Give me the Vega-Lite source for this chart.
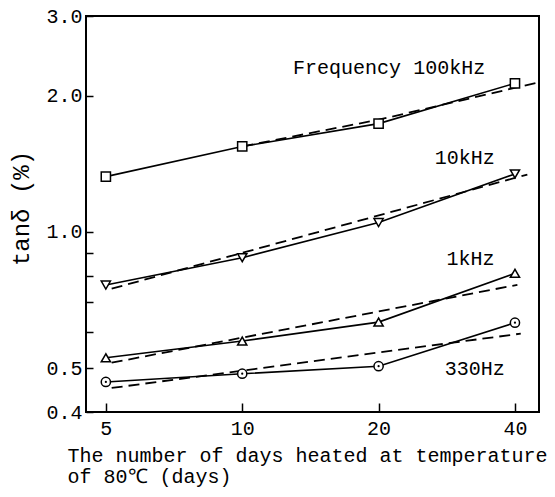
{
  "$schema": "https://vega.github.io/schema/vega-lite/v6.json",
  "autosize": {"type": "none"},
  "padding": {"left": 86, "top": 16, "right": 16, "bottom": 85},
  "width": 453,
  "height": 396,
  "background": "white",
  "config": {
    "view": {"stroke": "black", "strokeWidth": 2},
    "font": "Liberation Mono",
    "axis": {
      "labelFont": "Liberation Mono",
      "titleFont": "Liberation Mono",
      "labelFontSize": 20,
      "titleFontSize": 20,
      "labelColor": "black",
      "titleColor": "black",
      "titleFontWeight": "normal",
      "domain": false,
      "grid": false,
      "tickColor": "black",
      "tickWidth": 1.5
    }
  },
  "datasets": {
    "measured": [
      {"days": 5, "tand": 1.325, "series": "100kHz"},
      {"days": 10, "tand": 1.545, "series": "100kHz"},
      {"days": 20, "tand": 1.735, "series": "100kHz"},
      {"days": 40, "tand": 2.13, "series": "100kHz"},
      {"days": 5, "tand": 0.763, "series": "10kHz"},
      {"days": 10, "tand": 0.877, "series": "10kHz"},
      {"days": 20, "tand": 1.049, "series": "10kHz"},
      {"days": 40, "tand": 1.343, "series": "10kHz"},
      {"days": 5, "tand": 0.527, "series": "1kHz"},
      {"days": 10, "tand": 0.574, "series": "1kHz"},
      {"days": 20, "tand": 0.632, "series": "1kHz"},
      {"days": 40, "tand": 0.81, "series": "1kHz"},
      {"days": 5, "tand": 0.466, "series": "330Hz"},
      {"days": 10, "tand": 0.486, "series": "330Hz"},
      {"days": 20, "tand": 0.505, "series": "330Hz"},
      {"days": 40, "tand": 0.63, "series": "330Hz"}
    ],
    "fit": [
      {"days": 10, "tand": 1.545, "series": "100kHz"},
      {"days": 20, "tand": 1.77, "series": "100kHz"},
      {"days": 44.9, "tand": 2.138, "series": "100kHz"},
      {"days": 5.15, "tand": 0.749, "series": "10kHz"},
      {"days": 42.6, "tand": 1.339, "series": "10kHz"},
      {"days": 5.15, "tand": 0.514, "series": "1kHz"},
      {"days": 40.5, "tand": 0.764, "series": "1kHz"},
      {"days": 5.15, "tand": 0.452, "series": "330Hz"},
      {"days": 41.2, "tand": 0.596, "series": "330Hz"}
    ],
    "labels": [
      {"days": 21.1, "tand": 2.3, "text": "Frequency 100kHz"},
      {"days": 31, "tand": 1.46, "text": "10kHz"},
      {"days": 31.9, "tand": 0.871, "text": "1kHz"},
      {"days": 32.6, "tand": 0.497, "text": "330Hz"}
    ]
  },
  "encoding": {
    "x": {
      "field": "days",
      "type": "quantitative",
      "scale": {"type": "log", "domain": [4.52, 45.2], "nice": false},
      "axis": {
        "values": [5, 10, 20, 40],
        "format": "d",
        "tickSize": -9,
        "labelPadding": 15,
        "title": ["The number of days heated at temperature", "of 80℃ (days)"],
        "titleAnchor": "start",
        "titleAlign": "left",
        "titleBaseline": "top",
        "titleX": -19,
        "titleY": 33,
        "titleLineHeight": 21
      }
    },
    "y": {
      "field": "tand",
      "type": "quantitative",
      "scale": {"type": "log", "domain": [0.4, 3.0], "nice": false},
      "axis": {
        "values": [0.4, 0.5, 0.6, 0.7, 0.8, 0.9, 1, 2, 3],
        "labelExpr": "indexof([0.4, 0.5, 1, 2, 3], datum.value) >= 0 ? format(datum.value, '.1f') : ''",
        "tickSize": -7,
        "labelPadding": 11,
        "title": "tanδ (%)",
        "titleFontSize": 24,
        "titleX": -65,
        "titleY": 192,
        "titleAngle": -90,
        "titleBaseline": "middle",
        "titleAlign": "center"
      }
    }
  },
  "layer": [
    {
      "data": {"name": "measured"},
      "mark": {"type": "line", "color": "black", "strokeWidth": 1.6},
      "encoding": {"detail": {"field": "series"}}
    },
    {
      "data": {"name": "fit"},
      "mark": {"type": "line", "color": "black", "strokeWidth": 1.8, "strokeDash": [11, 6]},
      "encoding": {"detail": {"field": "series"}}
    },
    {
      "data": {"name": "measured"},
      "mark": {"type": "point", "filled": true, "fill": "white", "stroke": "black", "strokeWidth": 1.5, "size": 85, "opacity": 1},
      "encoding": {
        "shape": {
          "field": "series",
          "type": "nominal",
          "scale": {"domain": ["100kHz", "10kHz", "1kHz", "330Hz"], "range": ["square", "triangle-down", "triangle-up", "circle"]},
          "legend": null
        }
      }
    },
    {
      "data": {"name": "measured"},
      "transform": [{"filter": "datum.series === '330Hz'"}],
      "mark": {"type": "point", "filled": true, "color": "black", "size": 5, "opacity": 1}
    },
    {
      "data": {"name": "labels"},
      "mark": {"type": "text", "font": "Liberation Mono", "fontSize": 20, "color": "black", "align": "center", "baseline": "middle"},
      "encoding": {"text": {"field": "text"}}
    }
  ]
}
